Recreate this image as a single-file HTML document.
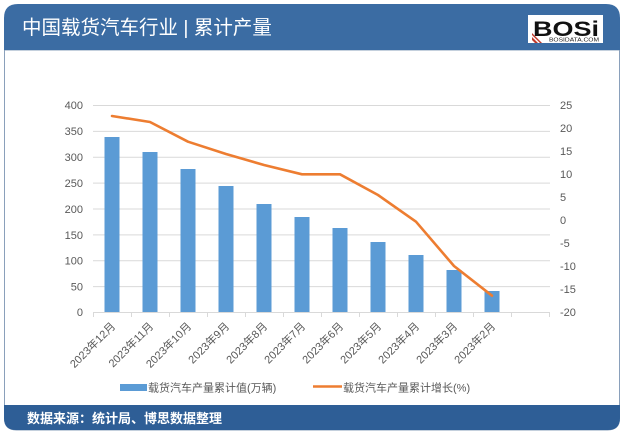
<!DOCTYPE html>
<html><head><meta charset="utf-8"><style>
html,body{margin:0;padding:0;background:#fff;}
svg{display:block;}
text{font-family:"Liberation Sans","Noto Sans CJK SC",sans-serif;}
</style></head><body>
<svg width="623" height="435" viewBox="0 0 623 435" xmlns="http://www.w3.org/2000/svg">
<rect x="0" y="0" width="623" height="435" fill="#fff"/>
<!-- card -->
<path d="M4.5,50 L4.5,418 Q4.5,430 16.5,430 L607.5,430 Q619.5,430 619.5,418 L619.5,50 Z" fill="#fff" stroke="#8aa0bb" stroke-width="1"/>
<path d="M4,50 L4,18 Q4,4 18,4 L606,4 Q620,4 620,18 L620,50 Z" fill="#3b6ca3"/>
<path d="M4,405 L620,405 L620,418 Q620,430 608,430 L16,430 Q4,430 4,418 Z" fill="#2e5e96"/>
<text x="22" y="34" font-size="19.5" fill="#fff">中国载货汽车行业 | 累计产量</text>
<!-- logo -->
<rect x="528" y="15" width="75" height="28" fill="#fff"/>
<text x="533" y="36" font-size="21" font-weight="bold" fill="#111" textLength="66" lengthAdjust="spacingAndGlyphs">BOSi</text>
<text x="549" y="41.5" font-size="5.5" fill="#222" textLength="50" lengthAdjust="spacingAndGlyphs">BOSIDATA.COM</text>
<path d="M532,37 L538,43 L535,43 L532,40 Z" fill="#c0392b"/>
<path d="M532,33 L542,43 L540,43 L532,35 Z" fill="#c0392b"/>
<!-- gridlines -->
<g stroke="#d9d9d9" stroke-width="1">
<line x1="93" y1="105.5" x2="550" y2="105.5"/>
<line x1="93" y1="131.4" x2="550" y2="131.4"/>
<line x1="93" y1="157.3" x2="550" y2="157.3"/>
<line x1="93" y1="183.1" x2="550" y2="183.1"/>
<line x1="93" y1="209" x2="550" y2="209"/>
<line x1="93" y1="234.9" x2="550" y2="234.9"/>
<line x1="93" y1="260.8" x2="550" y2="260.8"/>
<line x1="93" y1="286.6" x2="550" y2="286.6"/>
</g>
<!-- bars -->
<g fill="#5b9bd5">
<rect x="104.5" y="137" width="15" height="175"/>
<rect x="142.5" y="152" width="15" height="160"/>
<rect x="180.5" y="169" width="15" height="143"/>
<rect x="218.5" y="186" width="15" height="126"/>
<rect x="256.5" y="204" width="15" height="108"/>
<rect x="294.5" y="217" width="15" height="95"/>
<rect x="332.5" y="228" width="15" height="84"/>
<rect x="370.5" y="242" width="15" height="70"/>
<rect x="408.5" y="255" width="15" height="57"/>
<rect x="446.5" y="270" width="15" height="42"/>
<rect x="484.5" y="291" width="15" height="21"/>
</g>
<!-- x axis -->
<g stroke="#d9d9d9" stroke-width="1">
<line x1="93" y1="312.5" x2="550" y2="312.5"/>
<line x1="93.5" y1="312" x2="93.5" y2="317"/>
<line x1="131.5" y1="312" x2="131.5" y2="317"/>
<line x1="169.5" y1="312" x2="169.5" y2="317"/>
<line x1="207.5" y1="312" x2="207.5" y2="317"/>
<line x1="245.5" y1="312" x2="245.5" y2="317"/>
<line x1="283.5" y1="312" x2="283.5" y2="317"/>
<line x1="321.5" y1="312" x2="321.5" y2="317"/>
<line x1="359.5" y1="312" x2="359.5" y2="317"/>
<line x1="397.5" y1="312" x2="397.5" y2="317"/>
<line x1="435.5" y1="312" x2="435.5" y2="317"/>
<line x1="473.5" y1="312" x2="473.5" y2="317"/>
<line x1="511.5" y1="312" x2="511.5" y2="317"/>
<line x1="549.5" y1="312" x2="549.5" y2="317"/>
</g>
<!-- line -->
<polyline points="112,116 150,122 188,141.7 226,154 264,165 302,174.3 340,174.3 378,195 416,221.7 454,266 492,295.7" fill="none" stroke="#ed7d31" stroke-width="2.6" stroke-linejoin="round" stroke-linecap="round"/>
<!-- left labels -->
<g font-size="11" fill="#595959" text-anchor="end">
<text x="83" y="109">400</text>
<text x="83" y="135">350</text>
<text x="83" y="161">300</text>
<text x="83" y="187">250</text>
<text x="83" y="213">200</text>
<text x="83" y="239">150</text>
<text x="83" y="264.5">100</text>
<text x="83" y="290.5">50</text>
<text x="83" y="316">0</text>
</g>
<!-- right labels -->
<g font-size="11" fill="#595959">
<text x="560" y="109">25</text>
<text x="560" y="132">20</text>
<text x="560" y="155">15</text>
<text x="560" y="178">10</text>
<text x="560" y="201">5</text>
<text x="560" y="224">0</text>
<text x="560" y="247">-5</text>
<text x="560" y="270">-10</text>
<text x="560" y="293">-15</text>
<text x="560" y="316">-20</text>
</g>
<!-- x labels -->
<g font-size="11" fill="#595959" text-anchor="end">
<text transform="translate(116,327) rotate(-45)">2023年12月</text>
<text transform="translate(154,327) rotate(-45)">2023年11月</text>
<text transform="translate(192,327) rotate(-45)">2023年10月</text>
<text transform="translate(230,327) rotate(-45)">2023年9月</text>
<text transform="translate(268,327) rotate(-45)">2023年8月</text>
<text transform="translate(306,327) rotate(-45)">2023年7月</text>
<text transform="translate(344,327) rotate(-45)">2023年6月</text>
<text transform="translate(382,327) rotate(-45)">2023年5月</text>
<text transform="translate(420,327) rotate(-45)">2023年4月</text>
<text transform="translate(458,327) rotate(-45)">2023年3月</text>
<text transform="translate(496,327) rotate(-45)">2023年2月</text>
</g>
<!-- legend -->
<rect x="120" y="384" width="27" height="7" fill="#5b9bd5"/>
<text x="148" y="391.5" font-size="11" fill="#595959">载货汽车产量累计值(万辆)</text>
<line x1="313" y1="386.5" x2="342" y2="386.5" stroke="#ed7d31" stroke-width="2.6"/>
<text x="343" y="391.5" font-size="11" fill="#595959">载货汽车产量累计增长(%)</text>
<!-- footer -->
<text x="27" y="423" font-size="13" font-weight="bold" fill="#fff">数据来源：统计局、博思数据整理</text>
</svg>
</body></html>
